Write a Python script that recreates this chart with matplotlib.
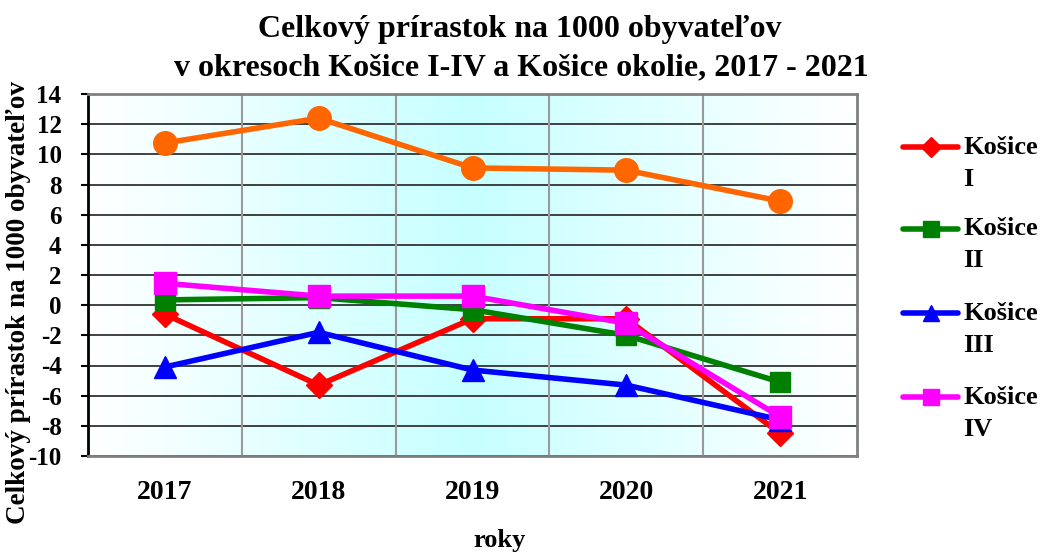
import numpy as np
import matplotlib.pyplot as plt
from matplotlib.lines import Line2D

plt.rcParams['font.family'] = ['Liberation Serif', 'DejaVu Serif']
plt.rcParams['font.weight'] = 'bold'

# data
years = ['2017', '2018', '2019', '2020', '2021']
kosice_1 = [-0.6, -5.3, -0.9, -0.9, -8.5]
kosice_2 = [0.35, 0.5, -0.3, -2.0, -5.1]
kosice_3 = [-4.1, -1.8, -4.3, -5.3, -7.6]
kosice_4 = [1.45, 0.6, 0.6, -1.2, -7.4]
okolie = [10.75, 12.4, 9.1, 8.95, 6.9]

series = [
    ('Košice\nI', kosice_1, 'red', 'D', 13),
    ('Košice\nII', kosice_2, 'green', 's', 15),
    ('Košice\nIII', kosice_3, 'blue', '^', 16),
    ('Košice\nIV', kosice_4, 'magenta', 's', 16),
]

fig = plt.figure(figsize=(10.42, 5.53), dpi=100)
ax = fig.add_axes([88/1042, 1-456/553, 769/1042, 362/553])

x = np.arange(len(years))
ax.set_xlim(-0.5, len(years) - 0.5)
ax.set_ylim(-10, 14)

# background gradient: white at edges, cyan in the middle
t = np.linspace(0, 1, 400)
w = 1 - np.abs(2 * t - 1)
grad = np.zeros((1, t.size, 3))
grad[..., 0] = 1 - 0.22 * w
grad[..., 1] = 1
grad[..., 2] = 1
ax.imshow(grad, extent=(-0.5, len(years) - 0.5, -10, 14), aspect='auto', zorder=0)

# grid
for yv in range(-10, 15, 2):
    ax.axhline(yv, color='#333333', lw=1.3, zorder=1)
for xv in np.arange(0.5, len(years) - 1, 1):
    ax.axvline(xv, color='#999999', lw=1.5, zorder=1)

ax.plot(x, okolie, color='#ff6600', marker='o', ms=17, lw=4, zorder=3)
for label, vals, col, mk, ms in series:
    ax.plot(x, vals, color=col, marker=mk, ms=ms, lw=4, zorder=3)

ax.set_xticks(x)
ax.set_xticklabels(years, fontsize=20, fontweight='bold')
ax.set_yticks(range(-10, 15, 2))
ax.set_yticklabels([str(v) for v in range(-10, 15, 2)], fontsize=18, fontweight='bold')
ax.tick_params(axis='x', length=0, pad=17)
ax.tick_params(axis='y', length=5, width=1.5, pad=14)

for side in ['top', 'right', 'bottom']:
    ax.spines[side].set_color('#808080')
    ax.spines[side].set_linewidth(2)
ax.spines['left'].set_color('black')
ax.spines['left'].set_linewidth(2)

fig.text(520/1042, 1-30/553, 'Celkový prírastok na 1000 obyvateľov',
         ha='center', va='center', fontsize=23, fontweight='bold')
fig.text(521/1042, 1-68/553, 'v okresoch Košice I-IV a Košice okolie, 2017 - 2021',
         ha='center', va='center', fontsize=23, fontweight='bold')
fig.text(19/1042, 1-302/553, 'Celkový prírastok na 1000 obyvateľov', rotation=90,
         ha='center', va='center', fontsize=19.5, fontweight='bold')
fig.text(500/1042, 1-541/553, 'roky', ha='center', va='center',
         fontsize=19, fontweight='bold')

# legend
leg_y = [147, 229, 313, 397]
for (label, vals, col, mk, ms), yy in zip(series, leg_y):
    yf = 1 - yy/553
    fig.add_artist(Line2D([903/1042, 931/1042, 958/1042], [yf, yf, yf], color=col, lw=4,
                          marker=mk, ms=ms * 0.75, markevery=[1],
                          transform=fig.transFigure, solid_capstyle='round'))
    first, second = label.split('\n')
    fig.text(963/1042, yf, first, ha='left', va='center', fontsize=19, fontweight='bold')
    fig.text(963/1042, yf - 32/553, second, ha='left', va='center', fontsize=19, fontweight='bold')

fig.savefig('out.png', dpi=100)
